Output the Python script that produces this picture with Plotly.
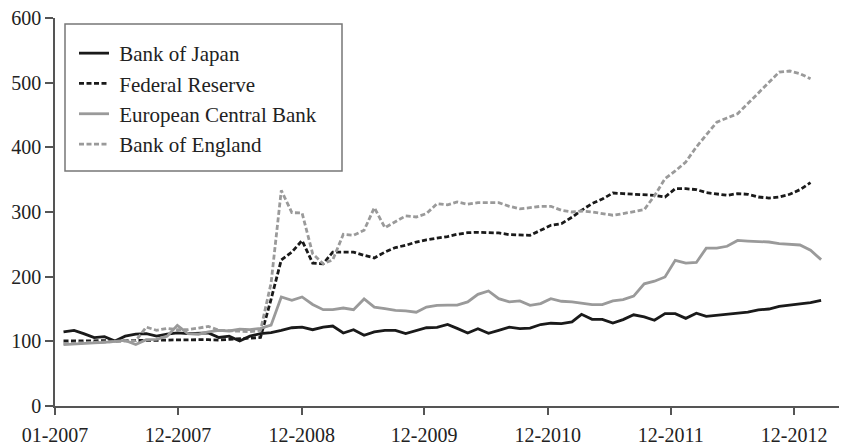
import pandas as pd
import plotly.graph_objects as go

months_long = pd.date_range("2007-01-01", periods=74, freq="MS").strftime("%Y-%m-%d").tolist()
months_short = months_long[:73]

bank_of_japan = [114.5, 117, 112, 105.7, 107.3, 100.6, 108, 111, 112, 108,
                 111, 113, 112, 113, 113, 106, 108, 100.6, 108, 112,
                 113.5, 117, 121, 122, 118, 122, 123.7, 112.9, 118, 109.3,
                 114.5, 117, 117, 112, 117, 121, 121.5, 126, 120, 113,
                 119.6, 112.5, 117, 122, 119.6, 120.5, 126, 128, 127.4, 130,
                 141.8, 134, 134, 128.4, 133.6, 141, 137.8, 132.6, 142.8, 142.8,
                 135.5, 143.5, 138.6, 140, 141.7, 142.8, 145, 148.5, 150, 154,
                 156.6, 158, 159.7, 163.3]

federal_reserve = [100.5, 100.5, 100.5, 100.8, 100.8, 101, 101.5, 101.5, 101.5, 101.5,
                   102, 102.5, 102.5, 102.5, 102.5, 102, 103, 104, 105, 106,
                   165, 226, 238, 256, 221, 220, 238, 238, 238, 233,
                   229, 238, 245, 248.5, 253.6, 257, 259, 262, 265.5, 268,
                   268.6, 268, 267.6, 265, 264, 264, 271.7, 279.4, 282, 292,
                   302.6, 313, 320, 329.4, 328.4, 327.4, 327, 325.8, 323.2, 336,
                   336, 334.6, 330, 328.4, 325.8, 328.4, 327.4, 323.2, 321.6, 323.2,
                   327.4, 334.6, 345.4]

european_central_bank = [95, 95.5, 96.5, 97.5, 98.5, 100, 101.5, 95, 102.6, 103,
                         108, 124.8, 112, 111, 114.5, 117, 116, 119, 118, 120,
                         125, 168.6, 163.5, 168.6, 157, 149, 149, 151.5, 149, 165.5,
                         153, 150.6, 148, 147, 145, 153, 155.7, 156, 156, 161,
                         172.7, 177.9, 166, 161, 162.4, 155.7, 158.3, 166, 162, 161,
                         159.3, 156.7, 156.7, 162.4, 164.5, 170, 189, 193, 199.5, 225.3,
                         221, 222, 244, 244, 247, 256, 255, 254.6, 253.6, 251,
                         250, 249, 240.8, 226.3]

bank_of_england = [96.5, 97, 98, 98.5, 99.5, 100, 100.5, 101, 122, 117,
                   120, 118, 118, 121, 123, 117, 116, 115, 115, 117,
                   190, 333.5, 299, 298.5, 235.6, 220, 226, 265.5, 264, 271.7,
                   306.7, 275.8, 284.6, 293.9, 292.3, 297.5, 313, 311, 315.5, 312,
                   314.5, 314.5, 314.5, 308.8, 305, 306.7, 308.8, 308.8, 302.6, 300,
                   301.6, 300, 297.5, 295, 297.5, 300, 303.6, 325, 351.6, 363.5,
                   377.4, 400.6, 418.6, 439, 445.4, 452, 467.6, 484, 501, 516.5,
                   518, 514, 506]

series_names = ["Bank of Japan", "Federal Reserve", "European Central Bank", "Bank of England"]

tick_dates = ["2006-12-07", "2007-12-03", "2008-11-30", "2009-11-24",
              "2010-11-22", "2011-11-18", "2012-11-14"]
tick_labels = ["01-2007", "12-2007", "12-2008", "12-2009", "12-2010", "12-2011", "12-2012"]
y_ticks = [0, 100, 200, 300, 400, 500, 600]

FONT = "Liberation Serif"
BLACK = "#1a1a1a"
GRAY = "#9a9a9a"
AXIS = "#555555"
TEXT = "#222222"
PAD = "\u00a0"

# page body has an 8px margin; the figure is sized so it ends at the window edge
W, H = 839, 437
ML, MR, MT, MB = 47, 0, 10, 39
PW, PH = W - ML - MR, H - MT - MB


def px_x(px):  # window pixel -> paper x
    return (px - 8 - ML) / PW


def px_y(py):  # window pixel -> paper y
    return 1 - (py - 8 - MT) / PH


fig = go.Figure()
fig.add_trace(go.Scatter(x=months_long, y=bank_of_japan, name=PAD + series_names[0], mode="lines",
                         line=dict(color=BLACK, width=2.8)))
fig.add_trace(go.Scatter(x=months_short, y=federal_reserve, name=PAD + series_names[1], mode="lines",
                         line=dict(color=BLACK, width=2.8, dash="5px,2.5px")))
fig.add_trace(go.Scatter(x=months_long, y=european_central_bank, name=PAD + series_names[2], mode="lines",
                         line=dict(color=GRAY, width=2.8)))
fig.add_trace(go.Scatter(x=months_short, y=bank_of_england, name=PAD + series_names[3], mode="lines",
                         line=dict(color=GRAY, width=2.8, dash="5px,2.5px")))

# legend frame
fig.add_shape(type="rect", xref="paper", yref="paper",
              x0=px_x(65), x1=px_x(342), y0=px_y(171), y1=px_y(24),
              line=dict(color="#777777", width=1.5), fillcolor="rgba(0,0,0,0)", layer="above")

fig.update_layout(
    width=W, height=H,
    margin=dict(l=ML, r=MR, t=MT, b=MB),
    paper_bgcolor="white", plot_bgcolor="white",
    font=dict(family=FONT, color=TEXT, size=20),
    showlegend=True,
    legend=dict(x=px_x(74), y=px_y(33), xanchor="left", yanchor="top",
                borderwidth=0, bgcolor="rgba(0,0,0,0)",
                font=dict(family=FONT, size=21, color=TEXT),
                tracegroupgap=0),
    xaxis=dict(type="date", range=["2006-12-07", "2013-04-18"],
               tickvals=tick_dates, ticktext=tick_labels, automargin=False,
               showgrid=False, zeroline=False, showline=True, linecolor=AXIS, linewidth=1.5,
               ticks="outside", ticklen=7, tickwidth=1.5, tickcolor=AXIS,
               ticklabelstandoff=3, ticklabeloverflow="allow",
               tickfont=dict(family=FONT, size=20, color=TEXT)),
    yaxis=dict(range=[0, 600], tickvals=y_ticks, automargin=False,
               showgrid=False, zeroline=False, showline=True, linecolor=AXIS, linewidth=1.5,
               ticks="outside", ticklen=8, tickwidth=1.5, tickcolor=AXIS,
               ticklabelstandoff=0, ticklabeloverflow="allow",
               tickfont=dict(family=FONT, size=20, color=TEXT)),
)

fig.write_html("out.html")
